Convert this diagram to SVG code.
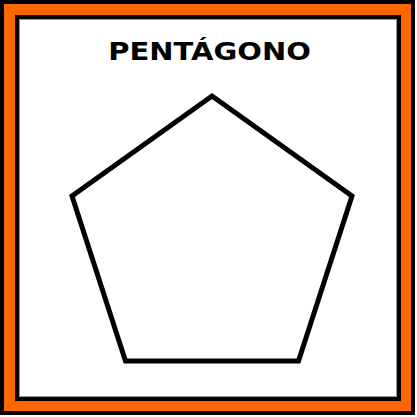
<svg xmlns="http://www.w3.org/2000/svg" width="417" height="417" viewBox="0 0 417 417">
<style>
.title{font-family:"DejaVu Sans",sans-serif;font-weight:bold;font-size:25px}
</style>
<rect x="0" y="0" width="417" height="417" fill="#ffffff"/>
<rect x="2" y="2" width="411" height="411" fill="#ff6600" stroke="#000000" stroke-width="4"/>
<rect x="17" y="17" width="382" height="382" fill="#ffffff" stroke="#000000" stroke-width="4"/>
<rect x="19.5" y="19.5" width="377" height="377" fill="none" stroke="#999999" stroke-width="1"/>
<g id="title"><text class="title" transform="scale(1.16,1)" x="180.6" y="60.5" text-anchor="middle">PENTÁGONO</text></g>
<g id="pentagon"><polygon points="212,96 352,196 298.5,361 125.5,361 72,196" fill="none" stroke="#000000" stroke-width="5"/></g>
</svg>
